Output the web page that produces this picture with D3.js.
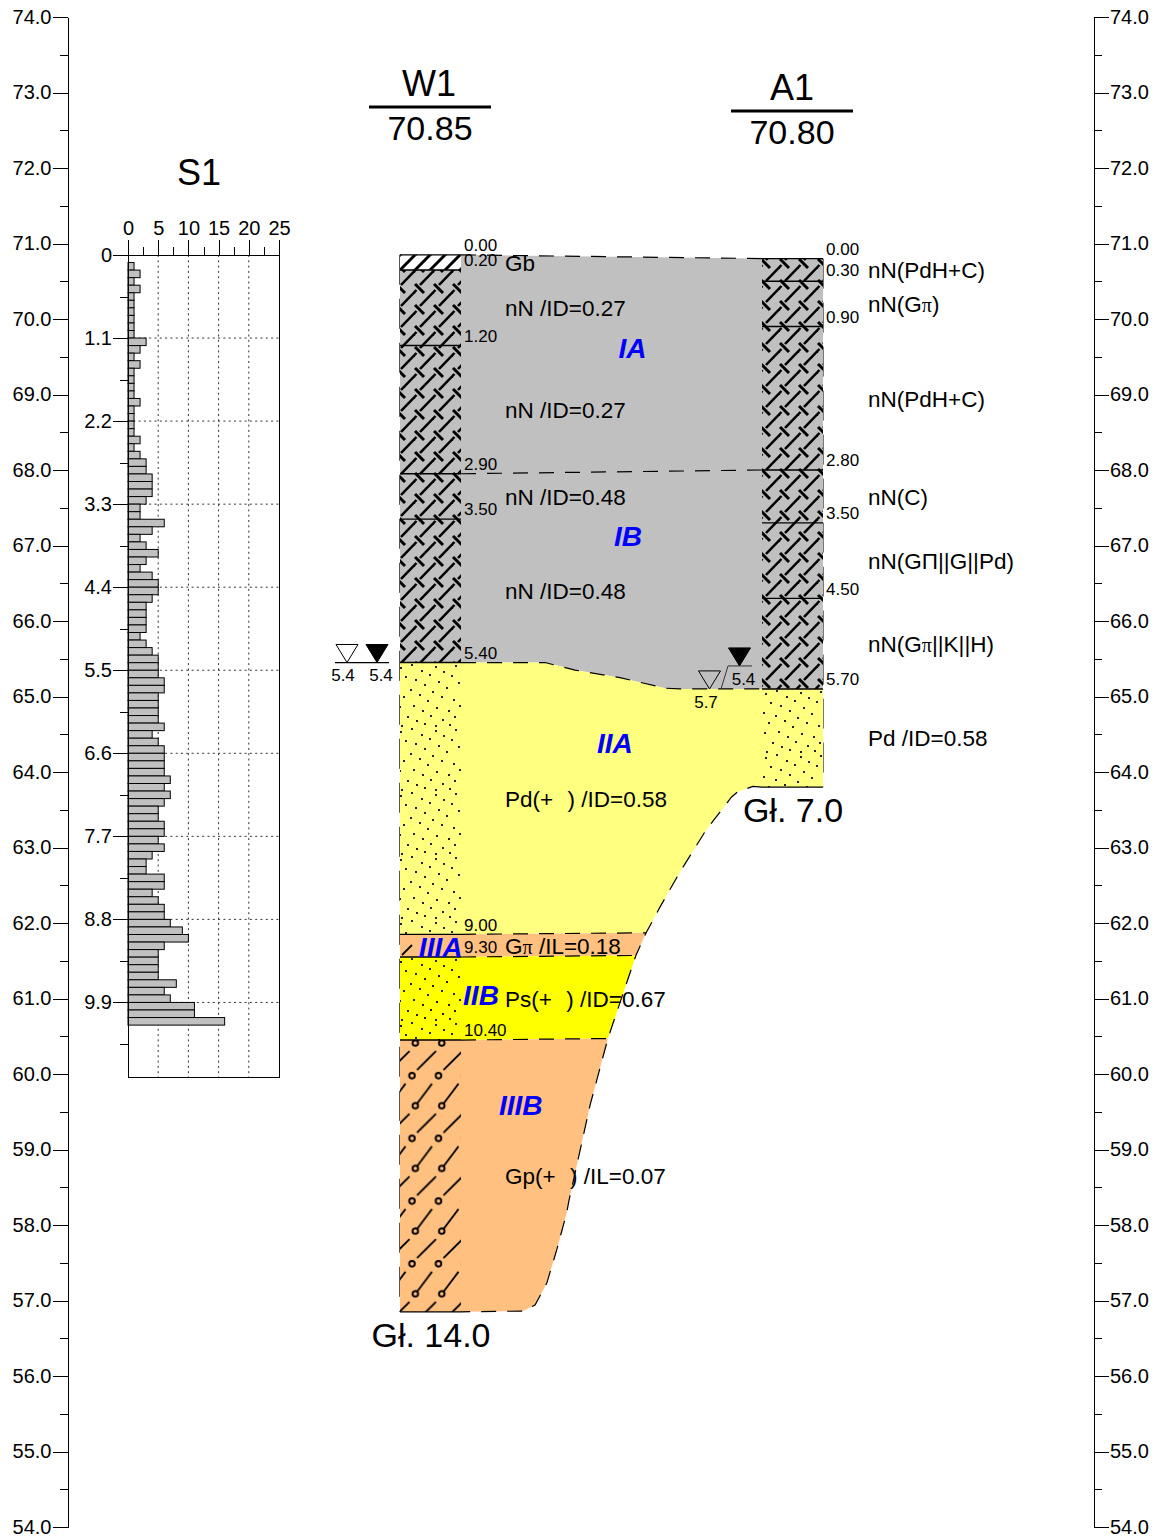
<!DOCTYPE html>
<html><head><meta charset="utf-8">
<script src="https://cdn.jsdelivr.net/npm/d3@7/dist/d3.min.js"></script>
<style>
html,body{margin:0;padding:0;background:#fff}
svg{display:block}
text{font-family:"Liberation Sans",Arial,sans-serif;fill:#000;white-space:pre}
.ax path,.ax line{stroke:#000;stroke-width:1;shape-rendering:crispEdges}
</style></head><body>
<div id="c"></div>
<script>
// ---------- data ----------
const elevMajor = d3.range(54, 74.01, 1);
const elevMinor = d3.range(54.5, 74, 1);
const probeDepth = [0.1,0.2,0.3,0.4,0.5,0.6,0.7,0.8,0.9,1.0,1.1,1.2,1.3,1.4,1.5,1.6,1.7,1.8,1.9,2.0,2.1,2.2,2.3,2.4,2.5,2.6,2.7,2.8,2.9,3.0,3.1,3.2,3.3,3.4,3.5,3.6,3.7,3.8,3.9,4.0,4.1,4.2,4.3,4.4,4.5,4.6,4.7,4.8,4.9,5.0,5.1,5.2,5.3,5.4,5.5,5.6,5.7,5.8,5.9,6.0,6.1,6.2,6.3,6.4,6.5,6.6,6.7,6.8,6.9,7.0,7.1,7.2,7.3,7.4,7.5,7.6,7.7,7.8,7.9,8.0,8.1,8.2,8.3,8.4,8.5,8.6,8.7,8.8,8.9,9.0,9.1,9.2,9.3,9.4,9.5,9.6,9.7,9.8,9.9,10.0,10.1];
const probeBlows = [1,2,1,2,1,1,1,1,1,1,3,2,1,2,1,1,1,1,2,1,1,1,1,2,1,2,3,3,4,4,4,3,2,2,6,4,2,3,5,3,2,4,5,5,4,3,3,3,3,2,3,4,5,5,5,6,6,5,5,5,5,6,4,5,6,6,6,6,7,6,7,6,5,5,6,6,5,6,4,3,3,6,6,4,5,6,6,7,9,10,6,5,5,5,5,8,6,7,11,11,16];
const probeDepthTicks = [0,1.1,2.2,3.3,4.4,5.5,6.6,7.7,8.8,9.9];
const probeDepthMinor = [0.55,1.65,2.75,3.85,4.95,6.05,7.15,8.25,9.35,10.45];
const probeValueTicks = [0,5,10,15,20,25];
const probeValueMinor = [2.5,7.5,12.5,17.5,22.5];

const w1Top = 70.85, a1Top = 70.80;
const w1Depths = [0,0.2,1.2,2.9,3.5,5.4,9.0,9.3,10.4,14.0];
const w1Fills  = ["#FFFFFF","#C0C0C0","#C0C0C0","#C0C0C0","#C0C0C0","#FFFF80","#FFC080","#FFFF00","#FFC080"];
const w1Hatch  = ["gb","nn","nn","nn","nn","sand","gp2","sand2","gp"];
const w1DepthLabels = ["0.00","0.20","1.20","2.90","3.50","5.40","9.00","9.30","10.40"];
const a1Depths = [0,0.3,0.9,2.8,3.5,4.5,5.7,7.0];
const a1Fills  = ["#C0C0C0","#C0C0C0","#C0C0C0","#C0C0C0","#C0C0C0","#C0C0C0","#FFFF80"];
const a1Hatch  = ["nnA","nnA","nnA","nnA","nnA","nnA","sandA"];
const a1DepthLabels = ["0.00","0.30","0.90","2.80","3.50","4.50","5.70"];

// section outlines: [fraction of the way W1→A1, elevation]
const topLine   = [[0,70.85],[1,70.80]];
const midLine   = [[0,67.95],[1,68.00]];
const sandTop   = [[0,65.45],[0.279,65.45],[0.379,65.35],[0.528,65.25],[0.678,65.11],[0.728,65.10],[1,65.10]];
const baseLine  = [[1,63.80],[0.970,63.81],[0.920,63.74],[0.899,63.67],[0.814,63.23],[0.728,62.68],[0.661,62.21],[0.615,61.87],[0.581,61.57],[0.488,60.47],[0.429,59.59],[0.359,58.33],[0.351,58.16],[0.318,57.67],[0.285,57.23],[0.246,56.94],[0.206,56.86],[0,56.85]];
const line900   = [[0,61.85],[0.615,61.87]];
const line930   = [[0,61.55],[0.581,61.57]];
const line1040  = [[0,60.45],[0.488,60.47]];

const TWO = "  \u200A";
const layerLabels = [
 ["Gb",70.636,"w"],["nN /ID=0.27",70.04,"w"],["nN /ID=0.27",68.689,"w"],["nN /ID=0.48",67.536,"w"],["nN /ID=0.48",66.291,"w"],
 ["Pd(+"+TWO+") /ID=0.58",63.536,"w"],["Gπ /IL=0.18",61.589,"w"],["Ps(+"+TWO+") /ID=0.67",60.887,"w"],["Gp(+"+TWO+") /IL=0.07",58.543,"w"],
 ["nN(PdH+C)",70.543,"a"],["nN(Gπ)",70.093,"a"],["nN(PdH+C)",68.834,"a"],["nN(C)",67.536,"a"],["nN(GΠ||G||Pd)",66.689,"a"],["nN(Gπ||K||H)",65.589,"a"],["Pd /ID=0.58",64.344,"a"]
];
const strata = [["IA",0.523,69.483],["IB",0.508,66.993],["IIA",0.452,64.252],["IIIA",-0.140,61.55],["IIB",0.007,60.92],["IIIB",0.126,59.453]];

// ---------- scales ----------
const W=1156,H=1540;
const yE = d3.scaleLinear().domain([74,54]).range([17,1527]);
const xSec = d3.scaleLinear().domain([0,1]).range([461,762]);
const xP = d3.scaleLinear().domain([0,25]).range([128,279]);
const yP = d3.scaleLinear().domain([0,10.9]).range([255,255+10.9*75.5]);
const yW = d=>yE(w1Top-d), yA = d=>yE(a1Top-d);
const colW=[400,461], colA=[762,823];

const svg = d3.select("#c").append("svg").attr("width",W).attr("height",H).attr("viewBox",`0 0 ${W} ${H}`);
const defs = svg.append("defs");
function tile(id,w,h,x0,y0,draw){
  const p=defs.append("pattern").attr("id",id).attr("patternUnits","userSpaceOnUse").attr("width",w).attr("height",h).attr("patternTransform",`translate(${x0},${y0})`);
  for(const dx of [-w,0,w]) for(const dy of [-h,0,h]) draw(p.append("g").attr("transform",`translate(${dx},${dy})`));
}
function seg(g,a,b,c,d,sw){g.append("line").attr("x1",a).attr("y1",b).attr("x2",c).attr("y2",d).attr("stroke","#000").attr("stroke-width",sw);}
const nnDraw=g=>{seg(g,0,0,9,9,3);seg(g,5,1,20.5,-15,2.5);};
tile("nn",19,21,415,410,nnDraw);
tile("nnA",19,21,761,280,nnDraw);
tile("gb",15,15,400,255,g=>{seg(g,0,15,15,0,3);});
const sandDots=[[3,4],[14,1],[24,7],[38,3],[46,8],[58,2],[8,13],[18,16],[32,11],[41,18],[54,12],[1,23],[13,26],[27,21],[35,28],[49,24],[61,19],[6,33],[22,31],[30,37],[44,33],[56,36],[2,43],[16,42],[25,47],[39,44],[51,47],[62,42],[10,53],[19,57],[33,52],[45,56],[57,53],[4,62],[27,60],[38,62],[52,61]];
const dotDraw=g=>{g.selectAll("rect").data(sandDots).join("rect").attr("x",d=>d[0]-1).attr("y",d=>d[1]-1).attr("width",2).attr("height",2).attr("fill","#222");};
tile("sand",64,64,398,664,dotDraw);
tile("sand2",64,64,398,958,dotDraw);
tile("sandA",64,64,763,690,dotDraw);
tile("gp",26.5,62.7,400,1040,g=>{
  g.append("circle").attr("cx",15.3).attr("cy",3).attr("r",2.8).attr("fill","none").attr("stroke","#000").attr("stroke-width",1.9);
  g.append("circle").attr("cx",12).attr("cy",35.7).attr("r",2.8).attr("fill","none").attr("stroke","#000").attr("stroke-width",1.9);
  seg(g,17,1,32,-19,1.8);
  seg(g,17,30,36,11,1.8);
});
tile("gp2",61,23,400,934,g=>{seg(g,2,21,12,11,1.8);});

// ---------- section fills ----------
const sec = d3.line().x(d=>xSec(d[0])).y(d=>yE(d[1]));
const outline = pts=>svg.append("path").attr("d",sec(pts)+"Z").attr("stroke","none");
outline([...topLine,...sandTop.slice().reverse()]).attr("fill","#C0C0C0");
const upper=baseLine.slice(0,8), b1400=baseLine.slice(9);
outline([...sandTop,...upper,line900[0]]).attr("fill","#FFFF80");
outline([line900[0],baseLine[7],baseLine[8],line930[0]]).attr("fill","#FFC080");
outline([line930[0],baseLine[8],baseLine[9],line1040[0]]).attr("fill","#FFFF00");
outline([line1040[0],...b1400]).attr("fill","#FFC080");

// ---------- dashed boundaries ----------
const dashed = pts=>svg.append("path").attr("d",sec(pts)).attr("fill","none").attr("stroke","#000").attr("stroke-width",1.2).attr("stroke-dasharray","15 11");
[topLine,midLine,sandTop,line900,line930,line1040,baseLine].forEach(dashed);

// ---------- borehole columns ----------
function column(depths,fills,hatch,yf,col){
  const g=svg.append("g");
  const rows=d3.pairs(depths).map((p,i)=>({a:p[0],b:p[1],f:fills[i],h:hatch[i]}));
  g.selectAll("rect.f").data(rows).join("rect").attr("class","f").attr("x",col[0]).attr("width",col[1]-col[0]).attr("y",d=>yf(d.a)).attr("height",d=>yf(d.b)-yf(d.a)).attr("fill",d=>d.f);
  g.selectAll("rect.h").data(rows).join("rect").attr("class","h").attr("x",col[0]).attr("width",col[1]-col[0]).attr("y",d=>yf(d.a)).attr("height",d=>yf(d.b)-yf(d.a)).attr("fill",d=>`url(#${d.h})`);
  g.selectAll("line.b").data(depths).join("line").attr("class","b").attr("x1",col[0]).attr("x2",col[1]).attr("y1",d=>yf(d)).attr("y2",d=>yf(d)).attr("stroke","#000").attr("stroke-width",1.4);
}
column(w1Depths,w1Fills,w1Hatch,yW,colW);
column(a1Depths,a1Fills,a1Hatch,yA,colA);
svg.append("line").attr("x1",399.5).attr("x2",399.5).attr("y1",yW(0)).attr("y2",yW(14)).attr("stroke","#555").attr("stroke-width",1).attr("stroke-dasharray","30 14");
svg.append("line").attr("x1",823.5).attr("x2",823.5).attr("y1",yA(0)).attr("y2",yA(7)).attr("stroke","#777").attr("stroke-width",1).attr("stroke-dasharray","30 14");

const txt=(s,x,y,size,anchor="start")=>svg.append("text").text(s).attr("x",x).attr("y",y).attr("font-size",size).attr("text-anchor",anchor);

// depth labels
const w1LabelY=[251,266,342,470,515,659,931,953,1036];
w1DepthLabels.forEach((s,i)=>txt(s,464,w1LabelY[i],17));
const a1LabelY=[255,276,323,466,519,595,685];
a1DepthLabels.forEach((s,i)=>txt(s,826,a1LabelY[i],17));

// layer names (π drawn small and serif, as in the reference)
layerLabels.forEach(d=>{
  const t=svg.append("text").attr("x",d[2]==="w"?505:868).attr("y",yE(d[1])).attr("font-size",22.5);
  d[0].split(/(π)/).forEach(part=>{
    const s=t.append("tspan").text(part);
    if(part==="π") s.attr("font-family","Liberation Serif").attr("font-size",20);
  });
});
// strata
strata.forEach(d=>txt(d[0],xSec(d[1]),yE(d[2]),28).attr("fill","#0000FF").style("fill","#0000FF").attr("font-weight","bold").attr("font-style","italic"));

// headings
txt("W1",429,96,36,"middle");txt("70.85",430,140,34,"middle");
svg.append("line").attr("x1",369).attr("x2",491).attr("y1",107).attr("y2",107).attr("stroke","#000").attr("stroke-width",3);
txt("A1",792,100,36,"middle");txt("70.80",792,144,34,"middle");
svg.append("line").attr("x1",731).attr("x2",853).attr("y1",111).attr("y2",111).attr("stroke","#000").attr("stroke-width",3);
txt("S1",199,185,36,"middle");
txt("Gł. 14.0",431,1347,34,"middle");
txt("Gł. 7.0",793,822,34,"middle");

// water symbols
const tri=(x,y,s,solid)=>svg.append("path").attr("d",`M${x},${y}l${-s/2},${-s*0.82}h${s}Z`).attr("fill",solid?"#000":"#fff").attr("stroke","#000").attr("stroke-width",1);
const wLevel=yW(5.4);
svg.append("line").attr("x1",335).attr("x2",389).attr("y1",wLevel).attr("y2",wLevel).attr("stroke","#000").attr("stroke-width",1.2);
tri(347,wLevel,22,false);tri(377,wLevel,22,true);
txt("5.4",343,681,17,"middle");txt("5.4",381,681,17,"middle");
const aLevel=yA(5.7), aSolid=yE(a1Top-5.7)-23;
tri(709.5,aLevel,22,false).attr("fill","none");
tri(739.5,aSolid,22,true);
svg.append("path").attr("d",`M721,${aLevel}L728,${aSolid}H752`).attr("fill","none").attr("stroke","#333").attr("stroke-width",1);
txt("5.7",706,708,17,"middle");txt("5.4",743.5,685,17,"middle");

// ---------- elevation axes ----------
function elevAxis(x,gen){
  svg.append("g").attr("class","ax").attr("transform",`translate(${x},0)`).call(gen(yE).tickValues(elevMinor).tickSize(8).tickSizeOuter(0).tickFormat(""));
  svg.append("g").attr("class","ax").attr("transform",`translate(${x},0)`).call(gen(yE).tickValues(elevMajor).tickSize(15).tickSizeOuter(0).tickPadding(1).tickFormat(d3.format(".1f")))
    .selectAll("text").attr("font-size",20);
}
elevAxis(67.5,d3.axisLeft);
elevAxis(1094,d3.axisRight);

// ---------- probing chart ----------
const plot=svg.append("g");
plot.append("g").selectAll("line").data(probeValueTicks.slice(1,5)).join("line")
 .attr("x1",d=>xP(d)).attr("x2",d=>xP(d)).attr("y1",yP(0)).attr("y2",yP(10.9))
 .attr("stroke","#333").attr("stroke-width",1).attr("stroke-dasharray","2 3.3");
plot.append("g").selectAll("line").data(probeDepthTicks.slice(1)).join("line")
 .attr("x1",xP(0)).attr("x2",xP(25)).attr("y1",d=>yP(d)).attr("y2",d=>yP(d))
 .attr("stroke","#333").attr("stroke-width",1).attr("stroke-dasharray","2 3.3");
plot.append("rect").attr("x",xP(0)).attr("y",yP(0)).attr("width",xP(25)-xP(0)).attr("height",yP(10.9)-yP(0)).attr("fill","none").attr("stroke","#000").attr("stroke-width",1).attr("shape-rendering","crispEdges");
plot.append("g").selectAll("rect").data(probeDepth).join("rect")
 .attr("x",xP(0)).attr("y",d=>yP(d)).attr("height",yP(0.1)-yP(0))
 .attr("width",(d,i)=>xP(probeBlows[i])-xP(0))
 .attr("fill","#C0C0C0").attr("stroke","#000").attr("stroke-width",1);
// depth axis
svg.append("g").attr("class","ax").attr("transform",`translate(${xP(0)},0)`).call(d3.axisLeft(yP).tickValues(probeDepthMinor).tickSize(8).tickSizeOuter(0).tickFormat(""));
svg.append("g").attr("class","ax").attr("transform",`translate(${xP(0)},0)`).call(d3.axisLeft(yP).tickValues(probeDepthTicks).tickSize(15).tickSizeOuter(0).tickPadding(1).tickFormat(d=>d))
 .selectAll("text").attr("font-size",20);
// value axis
svg.append("g").attr("class","ax").attr("transform",`translate(0,${yP(0)})`).call(d3.axisTop(xP).tickValues(probeValueMinor).tickSize(8).tickSizeOuter(0).tickFormat(""));
svg.append("g").attr("class","ax").attr("transform",`translate(0,${yP(0)})`).call(d3.axisTop(xP).tickValues(probeValueTicks).tickSize(15).tickSizeOuter(0).tickPadding(5).tickFormat(d=>d))
 .selectAll("text").attr("font-size",20);
svg.selectAll(".ax text").style("font-family",'"Liberation Sans",Arial,sans-serif');
</script></body></html>
